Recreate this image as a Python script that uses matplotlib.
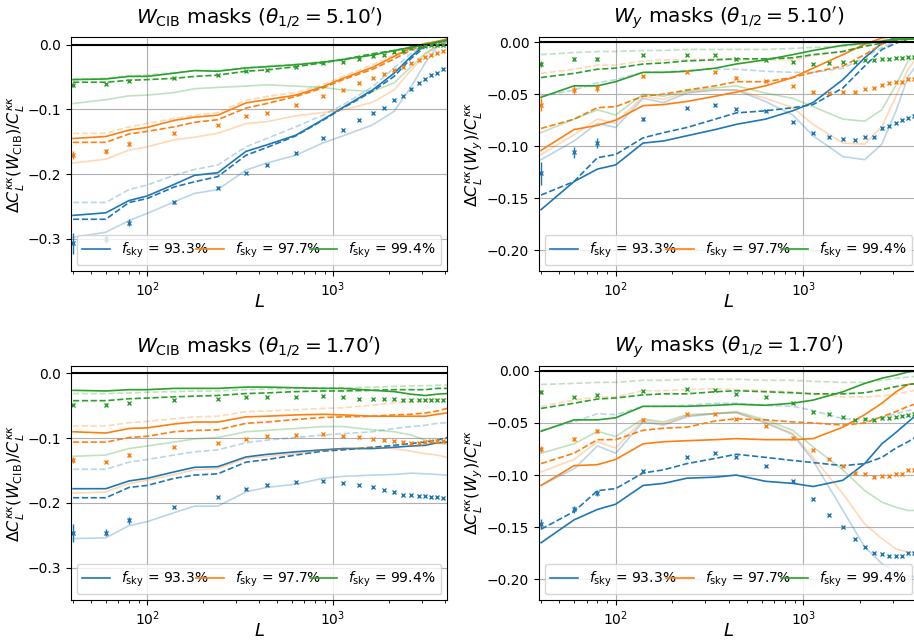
import matplotlib.pyplot as plt

# multipole bins
L_line = [40, 60, 80, 100, 140, 180, 240, 340, 440, 630, 880, 1130, 1630, 2130, 2630, 3130, 3630, 4100]
L_pts = [40, 60, 80, 140, 240, 340, 440, 630, 880, 1130, 1380, 1630, 1880, 2130, 2380, 2630, 2880, 3130, 3380, 3630, 3880]

fsky_labels = ['$f_{\\rm sky}$ = 93.3%', '$f_{\\rm sky}$ = 97.7%', '$f_{\\rm sky}$ = 99.4%']
titles = ["$W_{\\rm CIB}$ masks ($\\theta_{1/2} = 5.10'$)", "$W_y$ masks ($\\theta_{1/2} = 5.10'$)",
          "$W_{\\rm CIB}$ masks ($\\theta_{1/2} = 1.70'$)", "$W_y$ masks ($\\theta_{1/2} = 1.70'$)"]
ylabels = ['$\\Delta C_L^{\\kappa\\kappa}(W_{\\rm CIB})/C_L^{\\kappa\\kappa}$',
           '$\\Delta C_L^{\\kappa\\kappa}(W_y)/C_L^{\\kappa\\kappa}$']

# ---- top left: W_CIB, 5.10'
tl_b_sol = [-0.264, -0.260, -0.241, -0.234, -0.216, -0.202, -0.198, -0.165, -0.155, -0.140, -0.116, -0.097, -0.070, -0.044, -0.018, 0.0, 0.004, 0.008]
tl_b_das = [-0.270, -0.270, -0.244, -0.238, -0.220, -0.212, -0.204, -0.171, -0.159, -0.141, -0.117, -0.098, -0.072, -0.049, -0.021, -0.003, 0.003, 0.007]
tl_b_lsol = [-0.298, -0.290, -0.272, -0.261, -0.243, -0.230, -0.224, -0.194, -0.183, -0.171, -0.152, -0.141, -0.124, -0.103, -0.065, -0.028, -0.003, 0.005]
tl_b_ldas = [-0.244, -0.244, -0.224, -0.217, -0.202, -0.193, -0.186, -0.158, -0.145, -0.127, -0.109, -0.093, -0.065, -0.036, -0.013, 0.0, 0.003, 0.005]
tl_b_pts = [-0.307, -0.300, -0.275, -0.244, -0.221, -0.199, -0.186, -0.167, -0.145, -0.132, -0.116, -0.105, -0.098, -0.086, -0.079, -0.069, -0.059, -0.053, -0.047, -0.043, -0.038]
tl_b_err = [0.016, 0.006, 0.006, 0.002, 0.002, 0.001, 0.001, 0.001, 0.001, 0.001, 0.001, 0.001, 0.001, 0.001, 0.001, 0.001, 0.001, 0.001, 0.001, 0.001, 0.001]
tl_o_sol = [-0.145, -0.142, -0.132, -0.128, -0.117, -0.112, -0.109, -0.090, -0.085, -0.078, -0.065, -0.052, -0.035, -0.018, -0.005, 0.002, 0.005, 0.009]
tl_o_das = [-0.151, -0.151, -0.138, -0.134, -0.127, -0.120, -0.116, -0.098, -0.091, -0.080, -0.067, -0.054, -0.038, -0.022, -0.008, 0.0, 0.005, 0.008]
tl_o_lsol = [-0.183, -0.177, -0.163, -0.158, -0.147, -0.143, -0.137, -0.122, -0.119, -0.110, -0.105, -0.101, -0.089, -0.070, -0.039, -0.016, 0.0, 0.005]
tl_o_ldas = [-0.137, -0.137, -0.127, -0.122, -0.114, -0.109, -0.105, -0.086, -0.080, -0.074, -0.062, -0.049, -0.031, -0.016, -0.004, 0.002, 0.005, 0.008]
tl_o_pts = [-0.171, -0.165, -0.153, -0.137, -0.124, -0.110, -0.105, -0.093, -0.079, -0.070, -0.059, -0.051, -0.045, -0.039, -0.035, -0.028, -0.023, -0.019, -0.016, -0.013, -0.010]
tl_o_err = [0.006, 0.004, 0.004, 0.002, 0.001, 0.001, 0.001, 0.001, 0.001, 0.001, 0.001, 0.001, 0.001, 0.001, 0.001, 0.001, 0.001, 0.001, 0.001, 0.001, 0.001]
tl_g_sol = [-0.054, -0.053, -0.049, -0.049, -0.044, -0.040, -0.041, -0.036, -0.034, -0.031, -0.027, -0.023, -0.016, -0.009, -0.004, 0.0, 0.004, 0.007]
tl_g_das = [-0.058, -0.058, -0.055, -0.054, -0.052, -0.049, -0.047, -0.041, -0.039, -0.034, -0.028, -0.023, -0.014, -0.009, -0.004, 0.0, 0.004, 0.007]
tl_g_lsol = [-0.091, -0.085, -0.079, -0.078, -0.074, -0.068, -0.066, -0.064, -0.062, -0.064, -0.066, -0.070, -0.072, -0.059, -0.034, -0.013, -0.003, 0.005]
tl_g_ldas = [-0.053, -0.052, -0.048, -0.047, -0.043, -0.040, -0.040, -0.035, -0.033, -0.030, -0.026, -0.022, -0.015, -0.009, -0.004, 0.0, 0.004, 0.007]
tl_g_pts = [-0.062, -0.061, -0.056, -0.051, -0.047, -0.041, -0.039, -0.035, -0.028, -0.026, -0.022, -0.018, -0.016, -0.012, -0.009, -0.005, -0.003, -0.002, -0.001, -0.001, -0.001]
tl_g_err = [0.003, 0.002, 0.002, 0.001, 0.001, 0.001, 0.001, 0.001, 0.001, 0.001, 0.001, 0.001, 0.001, 0.001, 0.001, 0.001, 0.001, 0.001, 0.001, 0.001, 0.001]

# ---- top right: W_y, 5.10'
tr_b_sol = [-0.161, -0.134, -0.122, -0.118, -0.097, -0.095, -0.090, -0.084, -0.079, -0.074, -0.066, -0.058, -0.036, -0.015, -0.001, 0.005, 0.005, 0.005]
tr_b_das = [-0.147, -0.134, -0.111, -0.108, -0.092, -0.087, -0.082, -0.074, -0.068, -0.066, -0.063, -0.060, -0.044, -0.023, -0.007, -0.001, 0.003, 0.003]
tr_b_lsol = [-0.113, -0.095, -0.078, -0.082, -0.054, -0.058, -0.049, -0.046, -0.046, -0.057, -0.070, -0.090, -0.110, -0.113, -0.098, -0.066, -0.033, -0.020]
tr_b_ldas = [-0.052, -0.046, -0.039, -0.036, -0.029, -0.029, -0.027, -0.026, -0.026, -0.028, -0.029, -0.029, -0.025, -0.015, -0.005, 0.001, 0.003, 0.004]
tr_b_pts = [-0.126, -0.106, -0.097, -0.074, -0.063, -0.060, -0.064, -0.066, -0.077, -0.087, -0.091, -0.093, -0.094, -0.091, -0.091, -0.083, -0.081, -0.078, -0.075, -0.073, -0.071]
tr_b_err = [0.011, 0.005, 0.005, 0.002, 0.001, 0.001, 0.001, 0.001, 0.001, 0.001, 0.001, 0.001, 0.001, 0.001, 0.001, 0.001, 0.001, 0.001, 0.001, 0.001, 0.001]
tr_o_sol = [-0.104, -0.084, -0.080, -0.075, -0.061, -0.060, -0.057, -0.052, -0.048, -0.042, -0.034, -0.025, -0.012, -0.002, 0.004, 0.006, 0.005, 0.005]
tr_o_das = [-0.083, -0.074, -0.063, -0.062, -0.052, -0.050, -0.046, -0.042, -0.038, -0.038, -0.034, -0.029, -0.023, -0.012, -0.002, 0.003, 0.004, 0.005]
tr_o_lsol = [-0.108, -0.089, -0.074, -0.078, -0.052, -0.055, -0.048, -0.046, -0.046, -0.054, -0.063, -0.079, -0.097, -0.098, -0.081, -0.052, -0.026, -0.013]
tr_o_ldas = [-0.030, -0.026, -0.022, -0.022, -0.018, -0.017, -0.017, -0.016, -0.017, -0.017, -0.017, -0.013, -0.009, -0.003, 0.002, 0.004, 0.005, 0.005]
tr_o_pts = [-0.060, -0.046, -0.044, -0.033, -0.029, -0.029, -0.034, -0.037, -0.042, -0.048, -0.049, -0.048, -0.048, -0.045, -0.044, -0.041, -0.039, -0.038, -0.038, -0.035, -0.035]
tr_o_err = [0.006, 0.004, 0.004, 0.001, 0.001, 0.001, 0.001, 0.001, 0.001, 0.001, 0.001, 0.001, 0.001, 0.001, 0.001, 0.001, 0.001, 0.001, 0.001, 0.001, 0.001]
tr_g_sol = [-0.053, -0.042, -0.042, -0.038, -0.029, -0.029, -0.028, -0.025, -0.021, -0.017, -0.012, -0.008, -0.003, -0.001, 0.001, 0.003, 0.003, 0.003]
tr_g_das = [-0.034, -0.030, -0.026, -0.025, -0.021, -0.020, -0.018, -0.017, -0.016, -0.016, -0.015, -0.012, -0.009, -0.004, -0.001, 0.002, 0.003, 0.003]
tr_g_lsol = [-0.087, -0.074, -0.065, -0.070, -0.050, -0.052, -0.047, -0.044, -0.042, -0.049, -0.054, -0.062, -0.074, -0.076, -0.065, -0.041, -0.018, -0.012]
tr_g_ldas = [-0.012, -0.010, -0.009, -0.009, -0.008, -0.008, -0.007, -0.007, -0.007, -0.007, -0.006, -0.005, -0.004, -0.002, 0.0, 0.002, 0.003, 0.003]
tr_g_pts = [-0.021, -0.016, -0.016, -0.012, -0.012, -0.012, -0.016, -0.017, -0.019, -0.021, -0.020, -0.019, -0.019, -0.017, -0.017, -0.016, -0.016, -0.015, -0.015, -0.014, -0.014]
tr_g_err = [0.003, 0.002, 0.002, 0.001, 0.001, 0.001, 0.001, 0.001, 0.001, 0.001, 0.001, 0.001, 0.001, 0.001, 0.001, 0.001, 0.001, 0.001, 0.001, 0.001, 0.001]

# ---- bottom left: W_CIB, 1.70'
bl_b_sol = [-0.178, -0.178, -0.166, -0.162, -0.152, -0.145, -0.144, -0.129, -0.125, -0.121, -0.118, -0.116, -0.116, -0.114, -0.112, -0.111, -0.107, -0.106]
bl_b_das = [-0.192, -0.192, -0.176, -0.173, -0.162, -0.157, -0.155, -0.137, -0.133, -0.126, -0.120, -0.118, -0.114, -0.111, -0.108, -0.106, -0.103, -0.099]
bl_b_lsol = [-0.255, -0.254, -0.235, -0.229, -0.215, -0.205, -0.205, -0.183, -0.176, -0.171, -0.162, -0.159, -0.157, -0.156, -0.154, -0.155, -0.156, -0.157]
bl_b_ldas = [-0.148, -0.148, -0.137, -0.133, -0.126, -0.121, -0.118, -0.107, -0.103, -0.099, -0.095, -0.093, -0.090, -0.085, -0.082, -0.080, -0.077, -0.076]
bl_b_pts = [-0.246, -0.246, -0.227, -0.206, -0.191, -0.178, -0.173, -0.168, -0.166, -0.169, -0.173, -0.175, -0.180, -0.183, -0.187, -0.188, -0.190, -0.190, -0.191, -0.191, -0.192]
bl_b_err = [0.014, 0.005, 0.005, 0.002, 0.001, 0.001, 0.001, 0.001, 0.001, 0.001, 0.001, 0.001, 0.001, 0.001, 0.001, 0.001, 0.001, 0.001, 0.001, 0.001, 0.001]
bl_o_sol = [-0.090, -0.092, -0.085, -0.084, -0.078, -0.075, -0.075, -0.067, -0.066, -0.064, -0.063, -0.064, -0.066, -0.066, -0.066, -0.066, -0.063, -0.061]
bl_o_das = [-0.106, -0.106, -0.099, -0.097, -0.090, -0.088, -0.087, -0.077, -0.075, -0.071, -0.068, -0.067, -0.066, -0.064, -0.063, -0.061, -0.058, -0.054]
bl_o_lsol = [-0.185, -0.183, -0.170, -0.165, -0.156, -0.149, -0.147, -0.131, -0.128, -0.124, -0.119, -0.116, -0.114, -0.116, -0.120, -0.124, -0.126, -0.130]
bl_o_ldas = [-0.081, -0.081, -0.076, -0.074, -0.070, -0.067, -0.066, -0.059, -0.058, -0.056, -0.054, -0.053, -0.049, -0.045, -0.044, -0.041, -0.040, -0.039]
bl_o_pts = [-0.134, -0.136, -0.126, -0.114, -0.107, -0.101, -0.097, -0.095, -0.094, -0.097, -0.098, -0.101, -0.103, -0.104, -0.106, -0.107, -0.107, -0.106, -0.105, -0.105, -0.105]
bl_o_err = [0.005, 0.003, 0.003, 0.001, 0.001, 0.001, 0.001, 0.001, 0.001, 0.001, 0.001, 0.001, 0.001, 0.001, 0.001, 0.001, 0.001, 0.001, 0.001, 0.001, 0.001]
bl_g_sol = [-0.026, -0.027, -0.025, -0.025, -0.023, -0.023, -0.023, -0.021, -0.021, -0.022, -0.023, -0.023, -0.026, -0.028, -0.032, -0.034, -0.032, -0.031]
bl_g_das = [-0.042, -0.042, -0.039, -0.038, -0.036, -0.035, -0.034, -0.031, -0.030, -0.028, -0.027, -0.027, -0.026, -0.025, -0.025, -0.025, -0.023, -0.023]
bl_g_lsol = [-0.128, -0.126, -0.116, -0.112, -0.106, -0.101, -0.099, -0.090, -0.088, -0.085, -0.082, -0.082, -0.087, -0.090, -0.095, -0.103, -0.108, -0.109]
bl_g_ldas = [-0.031, -0.031, -0.030, -0.029, -0.028, -0.027, -0.027, -0.025, -0.024, -0.023, -0.022, -0.022, -0.021, -0.020, -0.019, -0.019, -0.018, -0.018]
bl_g_pts = [-0.048, -0.048, -0.045, -0.041, -0.039, -0.036, -0.036, -0.036, -0.035, -0.037, -0.039, -0.039, -0.040, -0.040, -0.041, -0.041, -0.041, -0.041, -0.041, -0.041, -0.041]
bl_g_err = [0.002, 0.002, 0.001, 0.001, 0.001, 0.001, 0.001, 0.001, 0.001, 0.001, 0.001, 0.001, 0.001, 0.001, 0.001, 0.001, 0.001, 0.001, 0.001, 0.001, 0.001]

# ---- bottom right: W_y, 1.70'
br_b_sol = [-0.165, -0.143, -0.133, -0.128, -0.110, -0.108, -0.103, -0.102, -0.100, -0.106, -0.108, -0.111, -0.105, -0.089, -0.070, -0.059, -0.049, -0.041]
br_b_das = [-0.152, -0.135, -0.115, -0.113, -0.098, -0.095, -0.089, -0.084, -0.080, -0.083, -0.086, -0.088, -0.091, -0.089, -0.083, -0.074, -0.068, -0.062]
br_b_lsol = [-0.110, -0.094, -0.072, -0.079, -0.049, -0.052, -0.044, -0.041, -0.040, -0.050, -0.061, -0.086, -0.134, -0.169, -0.185, -0.193, -0.197, -0.198]
br_b_ldas = [-0.057, -0.049, -0.041, -0.042, -0.034, -0.034, -0.033, -0.031, -0.031, -0.033, -0.034, -0.038, -0.046, -0.047, -0.045, -0.041, -0.038, -0.036]
br_b_pts = [-0.147, -0.133, -0.117, -0.096, -0.083, -0.079, -0.083, -0.091, -0.106, -0.123, -0.138, -0.150, -0.161, -0.169, -0.175, -0.176, -0.178, -0.178, -0.178, -0.175, -0.175]
br_b_err = [0.005, 0.003, 0.003, 0.001, 0.001, 0.001, 0.001, 0.001, 0.001, 0.001, 0.001, 0.001, 0.001, 0.001, 0.001, 0.001, 0.001, 0.001, 0.001, 0.001, 0.001]
br_o_sol = [-0.110, -0.091, -0.090, -0.085, -0.070, -0.068, -0.067, -0.066, -0.065, -0.066, -0.066, -0.065, -0.054, -0.042, -0.031, -0.020, -0.013, -0.012]
br_o_das = [-0.089, -0.079, -0.066, -0.066, -0.057, -0.055, -0.054, -0.048, -0.046, -0.047, -0.049, -0.050, -0.052, -0.050, -0.044, -0.039, -0.034, -0.031]
br_o_lsol = [-0.097, -0.085, -0.068, -0.074, -0.047, -0.051, -0.043, -0.041, -0.040, -0.049, -0.060, -0.083, -0.118, -0.147, -0.161, -0.171, -0.174, -0.175]
br_o_ldas = [-0.034, -0.028, -0.025, -0.025, -0.019, -0.019, -0.018, -0.017, -0.018, -0.019, -0.020, -0.022, -0.025, -0.025, -0.024, -0.022, -0.020, -0.018]
br_o_pts = [-0.075, -0.065, -0.058, -0.047, -0.041, -0.041, -0.046, -0.053, -0.064, -0.076, -0.085, -0.091, -0.098, -0.099, -0.102, -0.101, -0.101, -0.099, -0.099, -0.095, -0.095]
br_o_err = [0.003, 0.002, 0.002, 0.001, 0.001, 0.001, 0.001, 0.001, 0.001, 0.001, 0.001, 0.001, 0.001, 0.001, 0.001, 0.001, 0.001, 0.001, 0.001, 0.001, 0.001]
br_g_sol = [-0.058, -0.047, -0.047, -0.045, -0.034, -0.034, -0.034, -0.033, -0.032, -0.033, -0.031, -0.028, -0.020, -0.012, -0.007, -0.004, -0.001, 0.0]
br_g_das = [-0.036, -0.031, -0.027, -0.026, -0.023, -0.022, -0.022, -0.020, -0.019, -0.020, -0.021, -0.022, -0.022, -0.021, -0.018, -0.015, -0.013, -0.012]
br_g_lsol = [-0.079, -0.070, -0.058, -0.063, -0.046, -0.049, -0.042, -0.041, -0.039, -0.047, -0.057, -0.073, -0.095, -0.115, -0.126, -0.131, -0.134, -0.134]
br_g_ldas = [-0.013, -0.012, -0.011, -0.011, -0.009, -0.009, -0.008, -0.008, -0.008, -0.009, -0.009, -0.010, -0.011, -0.011, -0.009, -0.007, -0.006, -0.005]
br_g_pts = [-0.020, -0.025, -0.023, -0.019, -0.017, -0.018, -0.022, -0.025, -0.031, -0.039, -0.041, -0.044, -0.047, -0.046, -0.047, -0.045, -0.045, -0.044, -0.043, -0.042, -0.041]
br_g_err = [0.002, 0.001, 0.001, 0.001, 0.001, 0.001, 0.001, 0.001, 0.001, 0.001, 0.001, 0.001, 0.001, 0.001, 0.001, 0.001, 0.001, 0.001, 0.001, 0.001, 0.001]


def draw_panel(ax, series, title, ylabel, ylim, yticks, yfmt, ylab_x):
    colors = ['C0', 'C1', 'C2']
    for i, (sol, das, lsol, ldas, pts, err) in enumerate(series):
        c = colors[i]
        ax.plot(L_line, lsol, color=c, alpha=0.3, lw=1.2)
        ax.plot(L_line, ldas, color=c, alpha=0.3, lw=1.2, ls='--')
        ax.plot(L_line, das, color=c, lw=1.2, ls='--')
        ax.plot(L_line, sol, color=c, lw=1.2, label=fsky_labels[i])
        ax.errorbar(L_pts, pts, yerr=err, fmt='x', color=c, ms=3, mew=1, elinewidth=1)
    ax.axhline(0, color='k', lw=1.5)
    ax.set_xscale('log')
    ax.set_xlim(39, 4100)
    ax.set_ylim(*ylim)
    ax.set_yticks(yticks)
    ax.set_yticklabels([yfmt.format(t).replace('-', '\u2212') for t in yticks])
    ax.grid(True, which='major')
    ax.tick_params(labelsize=10)
    ax.set_title(title, fontsize=14.5, pad=10)
    ax.set_ylabel(ylabel, fontsize=11.5)
    ax.yaxis.set_label_coords(ylab_x, 0.5)
    ax.set_xlabel('$L$', fontsize=13)
    ax.xaxis.set_label_coords(0.5, -0.092)
    ax.legend(loc='lower left', bbox_to_anchor=(0.0, 0.0, 1.0, 0.2), mode='expand',
              borderaxespad=0.4, ncol=3, fontsize=10)


fig = plt.figure(figsize=(9.14, 6.44), dpi=100)
ax1 = fig.add_axes([0.0777, 0.5792, 0.4114, 0.3634])
ax2 = fig.add_axes([0.5897, 0.5792, 0.4147, 0.3634])
ax3 = fig.add_axes([0.0777, 0.0683, 0.4114, 0.3638])
ax4 = fig.add_axes([0.5897, 0.0683, 0.4147, 0.3638])

tl = [(tl_b_sol, tl_b_das, tl_b_lsol, tl_b_ldas, tl_b_pts, tl_b_err),
      (tl_o_sol, tl_o_das, tl_o_lsol, tl_o_ldas, tl_o_pts, tl_o_err),
      (tl_g_sol, tl_g_das, tl_g_lsol, tl_g_ldas, tl_g_pts, tl_g_err)]
tr = [(tr_b_sol, tr_b_das, tr_b_lsol, tr_b_ldas, tr_b_pts, tr_b_err),
      (tr_o_sol, tr_o_das, tr_o_lsol, tr_o_ldas, tr_o_pts, tr_o_err),
      (tr_g_sol, tr_g_das, tr_g_lsol, tr_g_ldas, tr_g_pts, tr_g_err)]
bl = [(bl_b_sol, bl_b_das, bl_b_lsol, bl_b_ldas, bl_b_pts, bl_b_err),
      (bl_o_sol, bl_o_das, bl_o_lsol, bl_o_ldas, bl_o_pts, bl_o_err),
      (bl_g_sol, bl_g_das, bl_g_lsol, bl_g_ldas, bl_g_pts, bl_g_err)]
br = [(br_b_sol, br_b_das, br_b_lsol, br_b_ldas, br_b_pts, br_b_err),
      (br_o_sol, br_o_das, br_o_lsol, br_o_ldas, br_o_pts, br_o_err),
      (br_g_sol, br_g_das, br_g_lsol, br_g_ldas, br_g_pts, br_g_err)]

cib_ticks = [0.0, -0.1, -0.2, -0.3]
y_ticks = [0.0, -0.05, -0.10, -0.15, -0.20]

draw_panel(ax1, tl, titles[0], ylabels[0], (-0.35, 0.012), cib_ticks, '{:.1f}', -0.118)
draw_panel(ax2, tr, titles[1], ylabels[1], (-0.22, 0.005), y_ticks, '{:.2f}', -0.142)
draw_panel(ax3, bl, titles[2], ylabels[0], (-0.35, 0.012), cib_ticks, '{:.1f}', -0.118)
draw_panel(ax4, br, titles[3], ylabels[1], (-0.22, 0.005), y_ticks, '{:.2f}', -0.142)

plt.savefig('out.png', dpi=100)
